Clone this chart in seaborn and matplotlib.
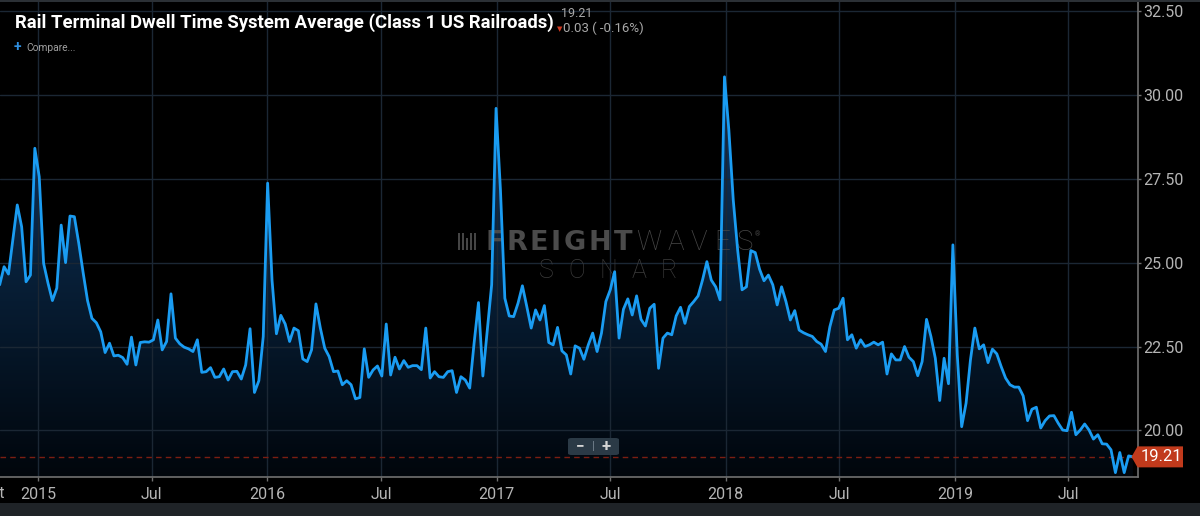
import numpy as np
import pandas as pd
import matplotlib
matplotlib.use("Agg")
import matplotlib.pyplot as plt
import matplotlib.dates as mdates
import matplotlib.transforms as mtransforms
from matplotlib.patches import Rectangle, Polygon, FancyBboxPatch
from matplotlib.colors import LinearSegmentedColormap
import seaborn as sns

# ---------------- data ----------------
start_date = "2014-11-01"
dwell_hours = [
    24.34, 24.88, 24.66, 25.68, 26.72, 26.07, 24.43, 24.63, 28.41, 27.56,
    24.98, 24.39, 23.87, 24.24, 26.12, 25.00, 26.39, 26.37, 25.58, 24.70,
    23.87, 23.34, 23.21, 22.94, 22.32, 22.60, 22.22, 22.24, 22.17, 21.97,
    22.78, 21.95, 22.62, 22.64, 22.63, 22.70, 23.29, 22.40, 22.65, 24.07,
    22.75, 22.58, 22.48, 22.43, 22.35, 22.70, 21.73, 21.75, 21.87, 21.58,
    21.60, 21.83, 21.50, 21.75, 21.76, 21.53, 21.95, 23.03, 21.13, 21.48,
    22.80, 27.37, 24.48, 22.88, 23.43, 23.17, 22.65, 23.05, 22.97, 22.13,
    22.05, 22.40, 23.77, 23.05, 22.45, 22.20, 21.75, 21.77, 21.36, 21.48,
    21.36, 20.94, 20.98, 22.43, 21.58, 21.80, 21.92, 21.62, 23.17, 21.65,
    22.18, 21.83, 22.08, 21.88, 21.93, 21.93, 21.81, 23.05, 21.56, 21.75,
    21.60, 21.58, 21.75, 21.78, 21.13, 21.60, 21.50, 21.26, 22.60, 23.81,
    21.62, 22.99, 24.34, 29.60, 27.17, 23.94, 23.41, 23.39, 23.79, 24.31,
    23.69, 23.05, 23.59, 23.29, 23.72, 22.62, 22.55, 23.07, 22.37, 22.25,
    21.68, 22.52, 22.45, 22.12, 22.55, 22.90, 22.35, 22.90, 23.84, 24.19,
    24.73, 22.75, 23.61, 23.92, 23.44, 24.01, 23.31, 23.11, 23.64, 23.76,
    21.85, 22.75, 22.90, 22.85, 23.41, 23.67, 23.19, 23.69, 23.84, 24.01,
    24.48, 25.03, 24.48, 24.28, 23.89, 30.54, 28.95, 26.87, 25.38, 24.19,
    24.28, 25.36, 25.30, 24.80, 24.46, 24.63, 24.34, 23.74, 24.28, 23.84,
    23.29, 23.57, 22.99, 22.91, 22.85, 22.80, 22.65, 22.57, 22.35, 23.09,
    23.59, 23.64, 23.94, 22.70, 22.85, 22.45, 22.70, 22.50, 22.55, 22.63,
    22.55, 22.63, 21.68, 22.28, 22.10, 22.10, 22.50, 22.18, 22.05, 21.63,
    22.05, 23.31, 22.80, 22.15, 20.89, 22.15, 21.39, 25.53, 22.25, 20.11,
    20.81, 22.10, 23.05, 22.43, 22.55, 22.02, 22.42, 22.28, 21.90, 21.56,
    21.36, 21.29, 21.29, 21.03, 20.29, 20.63, 20.69, 20.07, 20.29, 20.43,
    20.44, 20.21, 20.01, 19.99, 20.54, 19.87, 20.01, 20.19, 20.01, 19.74,
    19.87, 19.60, 19.59, 19.42, 18.74, 19.34, 18.74, 19.24, 19.21,
]
y_ticks = [20.0, 22.5, 25.0, 27.5, 30.0, 32.5]
x_tick_dates = ["2015-01-01", "2015-07-01", "2016-01-01", "2016-07-01", "2017-01-01",
                "2017-07-01", "2018-01-01", "2018-07-01", "2019-01-01", "2019-07-01"]
x_tick_labels = ["2015", "Jul", "2016", "Jul", "2017", "Jul", "2018", "Jul", "2019", "Jul"]
title_text = "Rail Terminal Dwell Time System Average (Class 1 US Railroads)"
last_value = 19.21
change_text = "0.03 ( -0.16%)"

dates = pd.date_range(start_date, periods=len(dwell_hours), freq="7D")
df = pd.DataFrame({"date": dates, "dwell": dwell_hours})

# ---------------- style ----------------
sns.set_theme(style="dark")
plt.rcParams["font.family"] = ["Roboto", "DejaVu Sans"]

W, H = 1200, 516
Y_LO, Y_HI = 18.61, 32.83


def fx(px):
    return px / W


def fy(py):
    return 1 - py / H


fig = plt.figure(figsize=(12, 5.16), dpi=100, facecolor="black")
ax = fig.add_axes([0, fy(477), fx(1138), 477 / H])
ax.set_facecolor("black")

# gradient area fill under the line
fb = ax.fill_between(df["date"], df["dwell"], Y_LO, facecolor="none",
                     edgecolor="none", zorder=1)
clip_path = fb.get_paths()[0]
x_lo = mdates.date2num(pd.Timestamp("2014-11-01 12:00"))
x_hi = mdates.date2num(pd.Timestamp("2019-10-20"))
grad = np.linspace(0, 1, 256).reshape(-1, 1)
cmap = LinearSegmentedColormap.from_list("fill", ["#01060c", "#082039", "#113b6d"])
im = ax.imshow(grad, extent=[x_lo, x_hi, Y_LO, 31.0], origin="lower",
               aspect="auto", cmap=cmap, zorder=1, interpolation="bicubic")
im.set_clip_path(clip_path, transform=ax.transData)

sns.lineplot(data=df, x="date", y="dwell", ax=ax, color="#1a9cf2",
             linewidth=2.0, zorder=5)

ax.axhline(last_value, color="#7c1e12", lw=1.0, ls=(0, (4, 3)), zorder=3)

ax.set_xlim(x_lo, x_hi)
ax.set_ylim(Y_LO, Y_HI)
ax.set_xlabel("")
ax.set_ylabel("")

ax.set_xticks(mdates.date2num(pd.to_datetime(x_tick_dates)))
ax.set_xticklabels(x_tick_labels)
ax.set_yticks(y_ticks)
ax.set_yticklabels([f"{v:.2f}" for v in y_ticks])
ax.yaxis.tick_right()

ax.set_axisbelow("line")
ax.grid(True, color="#1b2734", lw=1.0)

for side in ["left", "top"]:
    ax.spines[side].set_visible(False)
for side in ["right", "bottom"]:
    ax.spines[side].set_visible(True)
    ax.spines[side].set_color("#707070")
    ax.spines[side].set_linewidth(1.2)

ax.tick_params(axis="y", which="major", direction="out", length=2.3, width=1,
               color="#707070", labelcolor="#b5b5b5", labelsize=11.5, pad=1.5,
               right=True, left=False, labelright=True, labelleft=False)
ax.tick_params(axis="x", which="major", direction="out", length=3, width=1,
               color="#707070", labelcolor="#b5b5b5", labelsize=11.5, pad=4.5,
               bottom=True)

# label of the previous tick, clipped at the left edge (as in the reference)
fig.text(fx(5), fy(493), "Oct", ha="right", va="center", color="#b5b5b5",
         fontsize=11.5)

# last value tag
blend = mtransforms.blended_transform_factory(ax.transAxes, ax.transData)
half = 10.5 / 33.56
tip = 1131.5 / 1138
bx0 = 1137.5 / 1138
bx1 = 1183 / 1138
tag = Polygon([[tip, last_value], [bx0, last_value + half], [bx1, last_value + half],
               [bx1, last_value - half], [bx0, last_value - half]],
              closed=True, transform=blend, facecolor="#c13a1c", edgecolor="none",
              clip_on=False, zorder=10)
ax.add_patch(tag)
ax.text((1138 + 1183) / 2 / 1138 + 0.001, last_value, f"{last_value:.2f}",
        transform=blend, ha="center", va="center", color="white", fontsize=12,
        clip_on=False, zorder=11)

# title block
fig.text(fx(15), fy(28), title_text, ha="left", va="baseline", color="white",
         fontsize=13.3, fontweight="bold")
fig.text(fx(561), fy(17), f"{last_value:.2f}", ha="left", va="baseline",
         color="#a8a8a8", fontsize=9)
fig.text(fx(557), fy(31), "\u25BC", ha="left", va="baseline", color="#d23b22",
         fontsize=5)
fig.text(fx(563), fy(32), change_text, ha="left", va="baseline",
         color="#a8a8a8", fontsize=9.5)
fig.text(fx(14), fy(51), "+", ha="left", va="baseline", color="#2f8fe0",
         fontsize=10, fontweight="bold")
fig.text(fx(26), fy(51), "Compare...", ha="left", va="baseline",
         color="#a0a0a0", fontsize=7.3)


# watermark (behind the line)
def spaced_text(s, left, right, base, **kw):
    r = fig.canvas.get_renderer()
    widths = []
    for ch in s:
        t = fig.text(0, 0, ch, **kw)
        widths.append(t.get_window_extent(r).width)
        t.remove()
    gap = (right - left - sum(widths)) / max(len(s) - 1, 1)
    x = left
    for ch, w in zip(s, widths):
        ax.text(fx(x), fy(base), ch, transform=fig.transFigure, ha="left",
                va="baseline", zorder=2, clip_on=False, **kw)
        x += w + gap


spaced_text("FREIGHT", 485, 632, 250, color="#4b4b4b", fontsize=19.5,
            fontweight="heavy", family=["DejaVu Sans"])
spaced_text("WAVES", 636, 753, 250, color="#474747", fontsize=20,
            fontweight="light", family=["Roboto"])
ax.text(fx(755), fy(236), "\u00AE", transform=fig.transFigure, color="#474747",
        fontsize=5, zorder=2, clip_on=False)
spaced_text("SONAR", 539, 677, 278, color="#3c3c3c", fontsize=18,
            fontweight="light", family=["Roboto"])
for dx, hfrac in [(0, 1.0), (4, 1.0), (8, 0.7), (12, 1.0), (16, 1.0)]:
    hh = 17 * hfrac
    ax.add_patch(Rectangle((fx(458 + dx), fy(250)), 2.4 / W, hh / H,
                           transform=fig.transFigure, facecolor="#454545",
                           edgecolor="none", zorder=2, clip_on=False))

# zoom control
fig.patches.append(FancyBboxPatch((fx(568), fy(455)), 51 / W, 17 / H,
                                  boxstyle="round,pad=0,rounding_size=0.003",
                                  transform=fig.transFigure, facecolor="#2b3a46",
                                  edgecolor="none", zorder=20))
fig.text(fx(580), fy(446), "\u2212", ha="center", va="center", color="#d5d5d5",
         fontsize=11, fontweight="bold", zorder=21)
fig.text(fx(606), fy(446), "+", ha="center", va="center", color="#d5d5d5",
         fontsize=12, fontweight="bold", zorder=21)
fig.patches.append(Rectangle((fx(593), fy(451)), 1 / W, 10 / H,
                             transform=fig.transFigure, facecolor="#6a7884",
                             edgecolor="none", zorder=21))

# frame bands
fig.patches.append(Rectangle((0, 0), 1, 13 / H, transform=fig.transFigure,
                             facecolor="#1f2327", edgecolor="none", zorder=0))
fig.patches.append(Rectangle((0, 1 - 2 / H), 1, 2 / H, transform=fig.transFigure,
                             facecolor="#2b3035", edgecolor="none", zorder=30))

fig.savefig("out.png", dpi=100, facecolor="black")
